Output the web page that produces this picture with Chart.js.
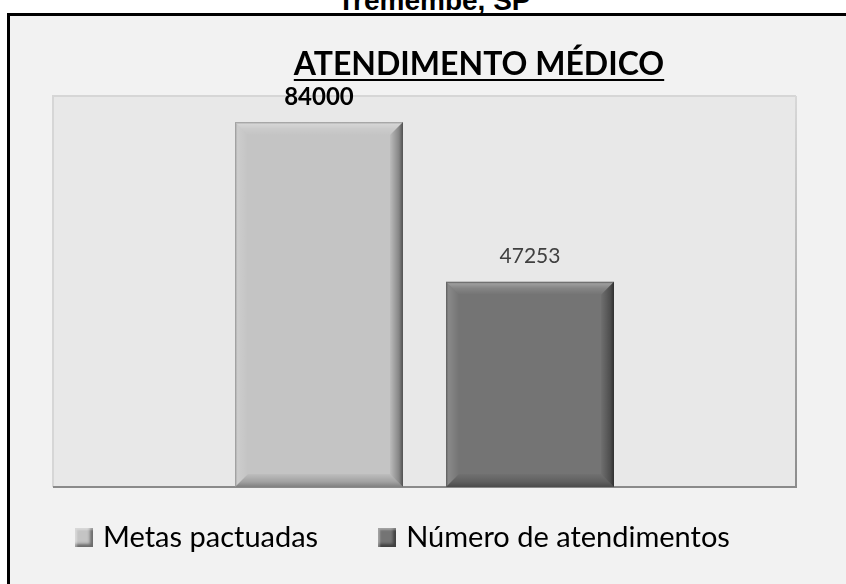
<!DOCTYPE html>
<html lang="pt-BR">
<head>
<meta charset="UTF-8">
<title>Atendimento médico</title>
<script src="https://cdn.jsdelivr.net/npm/chart.js@4.4.1/dist/chart.umd.min.js"></script>
<style>
    html, body { margin: 0; padding: 0; background: #fff; overflow: hidden; }
    #page   { position: relative; width: 846px; height: 584px; overflow: hidden; }
    #city   { position: absolute; left: 434px; top: -13px; transform: translateX(-50%);
              font: bold 28px/28px "Liberation Sans", Arial, sans-serif; color: #000; white-space: nowrap; }
    #frame  { position: absolute; left: 7px; top: 13px; right: -10px; bottom: -10px;
              border-left: 3px solid #000; border-top: 3px solid #000; background: #f2f2f2; }
    #chartBox { position: absolute; left: 0; top: 0; width: 846px; height: 584px; }
    #title  { position: absolute; left: 479px; top: 47px; transform: translateX(-50%);
              font: bold 32px/32px Lato, sans-serif; color: #000; white-space: nowrap;
              text-decoration: underline; text-decoration-thickness: 2px; text-underline-offset: 4px; }
    #legend { position: absolute; left: 75px; top: 521px; display: flex; gap: 60px;
              font: 29px/29px Lato, sans-serif; color: #000; white-space: nowrap; }
    .item   { display: flex; align-items: flex-start; }
    .swatch { width: 18px; height: 19px; margin-top: 7px; margin-right: 10px;
              box-shadow: inset 2px 2px 2px rgba(255,255,255,.35), inset -3px -3px 3px rgba(0,0,0,.45); }
</style>
</head>
<body>
<div id="page">
    <div id="city">Tremembé, SP</div>
    <div id="frame"></div>
    <div id="chartBox"><canvas id="atendimentoChart"></canvas></div>
    <div id="title">ATENDIMENTO MÉDICO</div>
    <div id="legend"></div>
</div>
<script>
const categories   = [''];
const seriesNames  = ['Metas pactuadas', 'Número de atendimentos'];
const seriesValues = [84000, 47253];
const seriesColors = ['#c4c4c4', '#747474'];

// value label look per series (first is bold black, second plain grey)
const labelStyles = [
    { font: 'bold 24px Lato', color: '#000000' },
    { font: '21px Lato',      color: '#404040' }
];

// grey plot panel with its thin frame
const plotPanel = {
    id: 'plotPanel',
    beforeDatasetsDraw(chart) {
        const { ctx, chartArea: a } = chart;
        ctx.save();
        ctx.fillStyle = '#e8e8e8';
        ctx.fillRect(a.left, a.top, a.right - a.left, a.bottom - a.top);
        ctx.lineWidth = 2;
        ctx.strokeStyle = '#d6d6d6';
        ctx.beginPath();
        ctx.moveTo(a.left, a.bottom);
        ctx.lineTo(a.left, a.top);
        ctx.lineTo(a.right, a.top);
        ctx.stroke();
        const g = ctx.createLinearGradient(0, a.top, 0, a.bottom);
        g.addColorStop(0, '#d8d8d8');
        g.addColorStop(1, '#8c8c8c');
        ctx.strokeStyle = g;
        ctx.beginPath();
        ctx.moveTo(a.right, a.top);
        ctx.lineTo(a.right, a.bottom);
        ctx.stroke();
        ctx.strokeStyle = '#8a8a8a';
        ctx.beginPath();
        ctx.moveTo(a.left, a.bottom);
        ctx.lineTo(a.right + 1, a.bottom);
        ctx.stroke();
        ctx.restore();
    }
};

// bevelled edges on top of each bar, then the value labels
const bevelAndLabels = {
    id: 'bevelAndLabels',
    afterDatasetsDraw(chart) {
        const ctx = chart.ctx;
        const b = 13;
        chart.getSortedVisibleDatasetMetas().forEach(meta => {
            meta.data.forEach((el, j) => {
                const p = el.getProps(['x', 'y', 'base', 'width'], true);
                const L = p.x - p.width / 2, R = p.x + p.width / 2, T = p.y, B = p.base;

                const band = (pts, x0, y0, x1, y1, stops) => {
                    const g = ctx.createLinearGradient(x0, y0, x1, y1);
                    stops.forEach(s => g.addColorStop(s[0], s[1]));
                    ctx.fillStyle = g;
                    ctx.beginPath();
                    ctx.moveTo(pts[0][0], pts[0][1]);
                    pts.slice(1).forEach(q => ctx.lineTo(q[0], q[1]));
                    ctx.closePath();
                    ctx.fill();
                };

                ctx.save();
                band([[L, T], [R, T], [R - b, T + b], [L + b, T + b]], 0, T, 0, T + b,
                    [[0, 'rgba(0,0,0,0.18)'], [0.15, 'rgba(255,255,255,0.30)'], [0.5, 'rgba(255,255,255,0.12)'], [1, 'rgba(255,255,255,0)']]);
                band([[L, T], [L + b, T + b], [L + b, B - b], [L, B]], L, 0, L + b, 0,
                    [[0, 'rgba(0,0,0,0.25)'], [0.2, 'rgba(255,255,255,0.15)'], [1, 'rgba(255,255,255,0)']]);
                band([[R, T], [R, B], [R - b, B - b], [R - b, T + b]], R, 0, R - b, 0,
                    [[0, 'rgba(0,0,0,0.60)'], [0.3, 'rgba(0,0,0,0.32)'], [1, 'rgba(0,0,0,0.04)']]);
                band([[L, B], [R, B], [R - b, B - b], [L + b, B - b]], 0, B, 0, B - b,
                    [[0, 'rgba(0,0,0,0.35)'], [0.4, 'rgba(0,0,0,0.18)'], [1, 'rgba(0,0,0,0.03)']]);
                ctx.restore();

                const st = labelStyles[meta.index];
                ctx.save();
                ctx.font = st.font;
                ctx.fillStyle = st.color;
                ctx.textAlign = 'center';
                ctx.textBaseline = 'middle';
                ctx.fillText(String(chart.data.datasets[meta.index].data[j]), p.x, T - 25);
                ctx.restore();
            });
        });
    }
};

const chart = new Chart(document.getElementById('atendimentoChart'), {
    type: 'bar',
    data: {
        labels: categories,
        datasets: seriesNames.map((name, i) => ({
            label: name,
            data: [seriesValues[i]],
            backgroundColor: seriesColors[i],
            borderWidth: 0,
            categoryPercentage: 0.568,
            barPercentage: 0.796
        }))
    },
    options: {
        responsive: true,
        maintainAspectRatio: false,
        animation: false,
        layout: { padding: { left: 53, right: 50, top: 96, bottom: 97 } },
        scales: {
            x: { display: false },
            y: { display: false, min: 0, max: 90000 }
        },
        plugins: {
            legend:  { display: false },
            title:   { display: false },
            tooltip: { enabled: false }
        }
    },
    plugins: [plotPanel, bevelAndLabels]
});

// html legend built from the datasets
const legendEl = document.getElementById('legend');
chart.data.datasets.forEach(ds => {
    const item = document.createElement('div');
    item.className = 'item';
    const sw = document.createElement('span');
    sw.className = 'swatch';
    sw.style.background = ds.backgroundColor;
    const txt = document.createElement('span');
    txt.textContent = ds.label;
    item.appendChild(sw);
    item.appendChild(txt);
    legendEl.appendChild(item);
});
</script>
</body>
</html>
